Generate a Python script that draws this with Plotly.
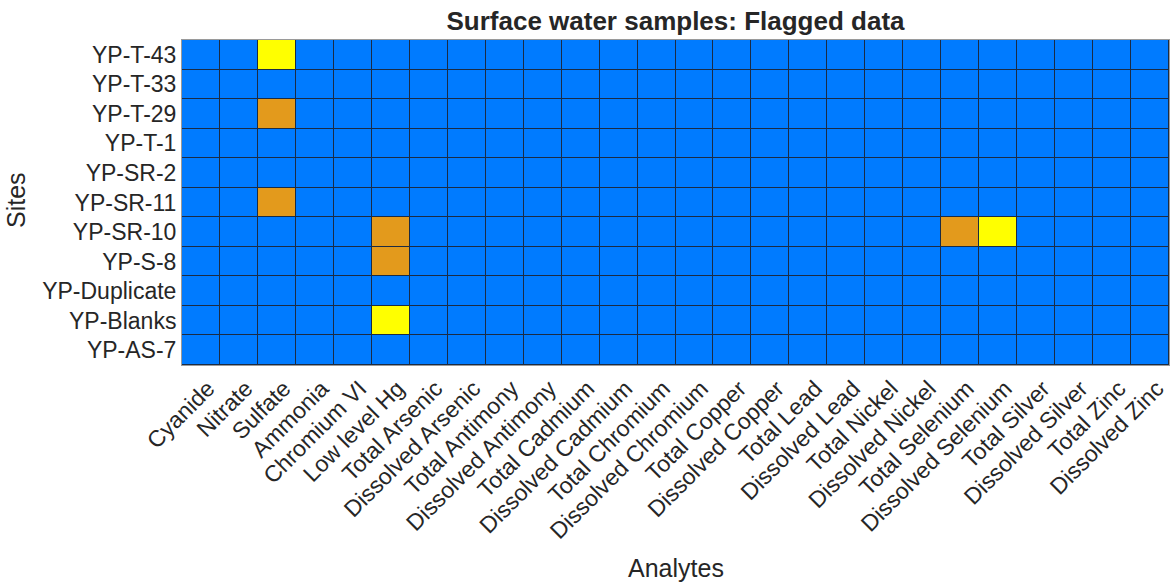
import plotly.graph_objects as go

analytes = ["Cyanide", "Nitrate", "Sulfate", "Ammonia", "Chromium VI", "Low level Hg",
            "Total Arsenic", "Dissolved Arsenic", "Total Antimony", "Dissolved Antimony",
            "Total Cadmium", "Dissolved Cadmium", "Total Chromium", "Dissolved Chromium",
            "Total Copper", "Dissolved Copper", "Total Lead", "Dissolved Lead",
            "Total Nickel", "Dissolved Nickel", "Total Selenium", "Dissolved Selenium",
            "Total Silver", "Dissolved Silver", "Total Zinc", "Dissolved Zinc"]
sites = ["YP-T-43", "YP-T-33", "YP-T-29", "YP-T-1", "YP-SR-2", "YP-SR-11",
         "YP-SR-10", "YP-S-8", "YP-Duplicate", "YP-Blanks", "YP-AS-7"]

# flag codes: 0 = ok, 1 = flagged (orange), 2 = flagged (yellow)
flags = {
    ("YP-T-43", "Sulfate"): 2,
    ("YP-T-29", "Sulfate"): 1,
    ("YP-SR-11", "Sulfate"): 1,
    ("YP-SR-10", "Low level Hg"): 1,
    ("YP-S-8", "Low level Hg"): 1,
    ("YP-Blanks", "Low level Hg"): 2,
    ("YP-SR-10", "Total Selenium"): 1,
    ("YP-SR-10", "Dissolved Selenium"): 2,
}
z = [[flags.get((s, a), 0) for a in analytes] for s in sites]

blue, orange, yellow = "#007BFF", "#E39A1C", "#FFFF00"
colorscale = [[0, blue], [1/3, blue], [1/3, orange], [2/3, orange], [2/3, yellow], [1, yellow]]

fig = go.Figure(go.Heatmap(z=z, x=analytes, y=sites, zmin=0, zmax=2,
                           colorscale=colorscale, showscale=False,
                           xgap=1, ygap=1, hoverongaps=False))

font_fam = "Liberation Sans, Arial, sans-serif"
W, H = 1171, 585
fig.update_layout(
    width=W, height=H,
    margin=dict(l=182, r=2, t=40, b=220),
    paper_bgcolor="white", plot_bgcolor="#1b2c44",
    font=dict(family=font_fam, color="#262626", size=23),
    title=dict(text="<b>Surface water samples: Flagged data</b>", x=(182 + 1169) / 2 / W,
               xanchor="center", y=1 - 21 / H, yanchor="middle",
               font=dict(size=26, color="#262626")),
    annotations=[
        dict(text="Analytes", xref="paper", yref="paper", x=(676 - 182) / (1169 - 182),
             y=-(568 - 365) / (365 - 40), xanchor="center", yanchor="middle",
             showarrow=False, font=dict(size=25, color="#262626")),
        dict(text="Sites", xref="paper", yref="paper", x=-(182 - 16) / (1169 - 182),
             y=(365 - 200) / (365 - 40), xanchor="center", yanchor="middle",
             textangle=-90, showarrow=False, font=dict(size=25, color="#262626")),
    ],
)
fig.update_xaxes(tickangle=-45, showgrid=False, ticks="", showline=True, linecolor="#9a9a9a",
                 mirror=True, linewidth=1, tickfont=dict(size=23), ticklabelshift=7)
fig.update_yaxes(autorange="reversed", showgrid=False, ticks="", showline=True,
                 linecolor="#9a9a9a", mirror=True, linewidth=1, tickfont=dict(size=23))

fig.write_html("out.html")
